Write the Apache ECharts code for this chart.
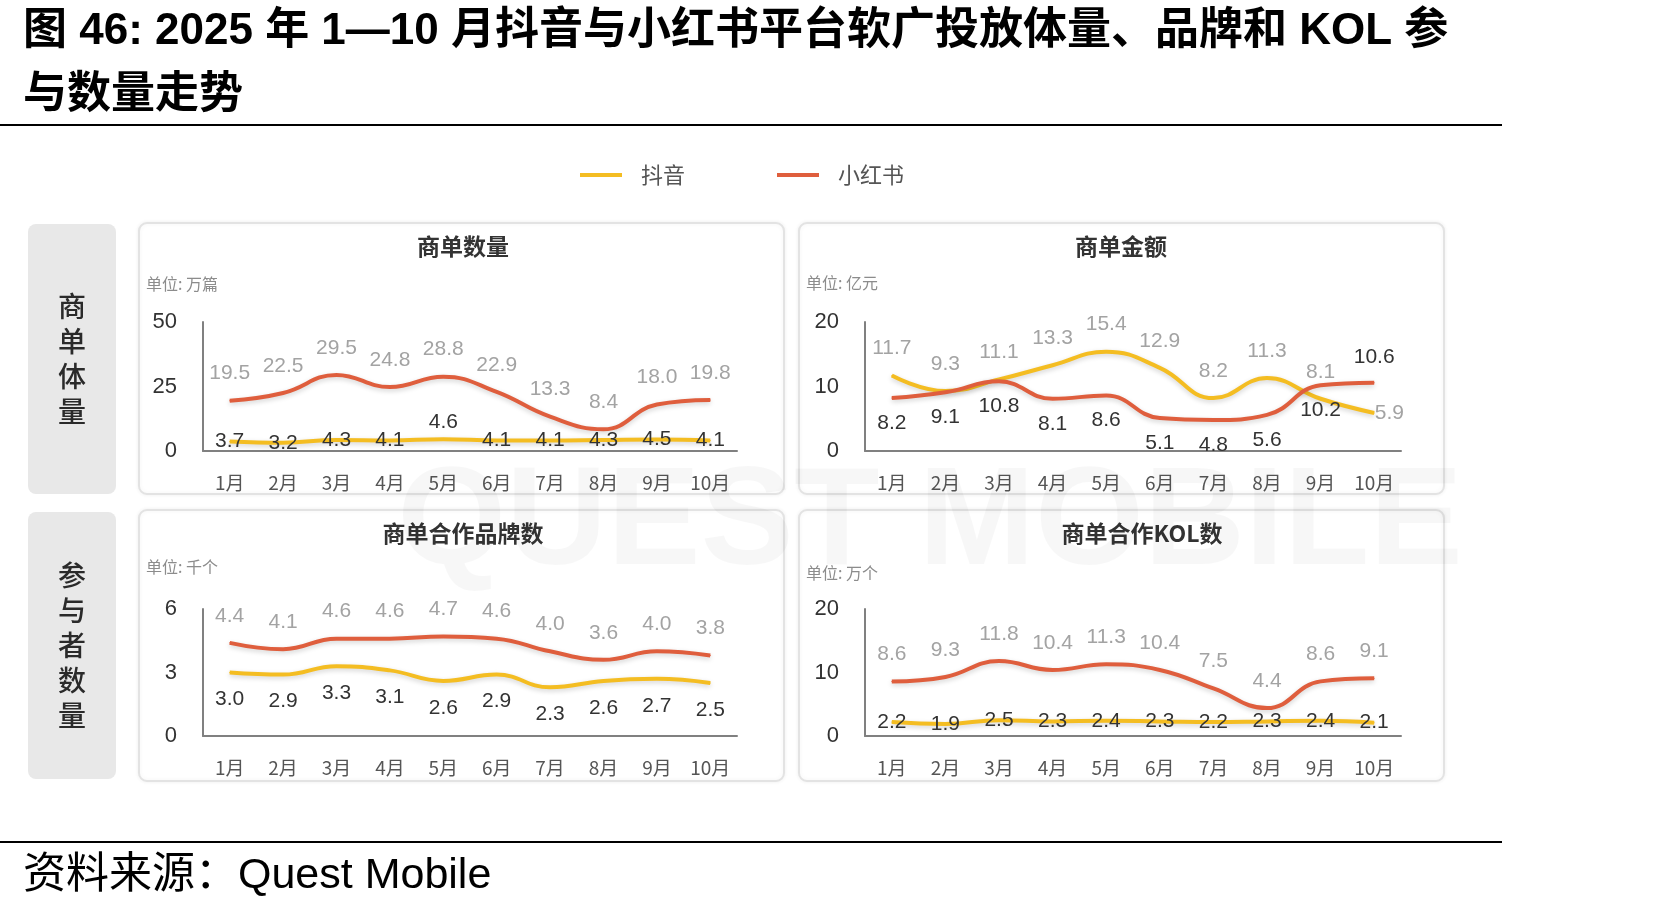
<!DOCTYPE html>
<html>
<head>
<meta charset="utf-8">
<style>
  html, body { margin: 0; padding: 0; background: #fff; }
  #main { width: 1656px; height: 911px; }
</style>
<script src="https://cdn.jsdelivr.net/npm/echarts@6/dist/echarts.min.js"></script>
</head>
<body>
<div id="main"></div>
<script>
// 月份
var months = ['1月', '2月', '3月', '4月', '5月', '6月', '7月', '8月', '9月', '10月'];

// 商单数量（万篇）
var volDouyin = [3.7, 3.2, 4.3, 4.1, 4.6, 4.1, 4.1, 4.3, 4.5, 4.1];
var volXhs = [19.5, 22.5, 29.5, 24.8, 28.8, 22.9, 13.3, 8.4, 18.0, 19.8];

// 商单金额（亿元）
var amtDouyin = [11.7, 9.3, 11.1, 13.3, 15.4, 12.9, 8.2, 11.3, 8.1, 5.9];
var amtXhs = [8.2, 9.1, 10.8, 8.1, 8.6, 5.1, 4.8, 5.6, 10.2, 10.6];

// 商单合作品牌数（千个）
var brandDouyin = [3.0, 2.9, 3.3, 3.1, 2.6, 2.9, 2.3, 2.6, 2.7, 2.5];
var brandXhs = [4.4, 4.1, 4.6, 4.6, 4.7, 4.6, 4.0, 3.6, 4.0, 3.8];

// 商单合作KOL数（万个）
var kolDouyin = [2.2, 1.9, 2.5, 2.3, 2.4, 2.3, 2.2, 2.3, 2.4, 2.1];
var kolXhs = [8.6, 9.3, 11.8, 10.4, 11.3, 10.4, 7.5, 4.4, 8.6, 9.1];

// y轴刻度
var yMax = [50, 20, 6, 20];
var yStep = [25, 10, 3, 10];

var panelTitles = ['商单数量', '商单金额', '商单合作品牌数', '商单合作KOL数'];
var panelUnits = ['单位: 万篇', '单位: 亿元', '单位: 千个', '单位: 万个'];

var YELLOW = '#F4BD22';
var RED = '#DF5E3D';
var GRAY_LABEL = '#a3a3a3';
var DARK_LABEL = '#333';
var LATIN = "'Liberation Sans', 'Noto Sans CJK SC', sans-serif";
var CJK = "'Noto Sans CJK SC', 'Liberation Sans', sans-serif";

var myChart = echarts.init(document.getElementById('main'));

// 面板位置
var panels = [
    {x: 139, y: 223, w: 645, h: 271, gl: 203, gt: 322, gw: 534, gh: 129, tx: 463, unitY: 284},
    {x: 799, y: 223, w: 645, h: 271, gl: 865, gt: 322, gw: 536, gh: 129, tx: 1121, unitY: 283},
    {x: 139, y: 510, w: 645, h: 271, gl: 203, gt: 609, gw: 534, gh: 127, tx: 463, unitY: 567},
    {x: 799, y: 510, w: 645, h: 271, gl: 865, gt: 609, gw: 536, gh: 127, tx: 1142, unitY: 573}
];

function labelOf(pos, color, dist) {
    return {
        show: true,
        position: pos,
        distance: dist,
        color: color,
        fontSize: 21,
        fontFamily: LATIN,
        formatter: function (p) { return Number(p.value).toFixed(1); }
    };
}

// overrides: {index: label}
function makeLine(idx, name, values, color, label, overrides) {
    var data = values.map(function (v, i) {
        if (overrides && overrides[i]) {
            return {value: v, label: overrides[i]};
        }
        return v;
    });
    return {
        name: name,
        type: 'line',
        xAxisIndex: idx,
        yAxisIndex: idx,
        smooth: 0.45,
        symbol: 'circle',
        symbolSize: 1,
        itemStyle: {color: color},
        lineStyle: {
            color: color,
            width: 4,
            shadowColor: 'rgba(0,0,0,0.18)',
            shadowBlur: 5,
            shadowOffsetY: 2
        },
        label: label,
        labelLayout: {hideOverlap: false},
        data: data,
        z: name === '小红书' ? 3 : 2
    };
}

var option = {
    animation: false,
    backgroundColor: '#fff',
    legend: {
        data: ['抖音', '小红书'],
        left: 575,
        top: 159,
        icon: 'rect',
        itemWidth: 42,
        itemHeight: 4,
        itemGap: 92,
        textStyle: {fontSize: 22, color: '#555', fontFamily: CJK, padding: [0, 0, 0, 14]}
    },
    grid: [],
    xAxis: [],
    yAxis: [],
    series: [],
    graphic: []
};

var g = option.graphic;

// 标题
g.push({
    type: 'text', left: 23, top: 0,
    style: {
        text: '图 46: 2025 年 1—10 月抖音与小红书平台软广投放体量、品牌和 KOL 参\n与数量走势',
        font: "bold 44px 'Liberation Sans', 'Noto Sans CJK SC', sans-serif",
        lineHeight: 64, fill: '#000'
    }
});
g.push({type: 'rect', shape: {x: 0, y: 124, width: 1502, height: 2}, style: {fill: '#000'}});
g.push({type: 'rect', shape: {x: 0, y: 841, width: 1502, height: 2}, style: {fill: '#000'}});
g.push({
    type: 'text', left: 23, top: 855,
    style: {
        text: '资料来源：Quest Mobile',
        font: "43px 'Liberation Sans', 'Noto Sans CJK SC', sans-serif",
        fill: '#000'
    }
});

// 左侧标签
var tabs = [
    {y: 224, h: 270, text: '商\n单\n体\n量'},
    {y: 512, h: 267, text: '参\n与\n者\n数\n量'}
];
tabs.forEach(function (t) {
    g.push({
        type: 'rect', z: 0,
        shape: {x: 28, y: t.y, width: 88, height: t.h, r: 8},
        style: {fill: '#e8e8e8'}
    });
    g.push({
        type: 'text', z: 1, x: 72, y: t.y + t.h / 2,
        style: {
            text: t.text, font: "500 28px " + CJK, fill: '#2a2a2a',
            lineHeight: 35, align: 'center', verticalAlign: 'middle'
        }
    });
});

panels.forEach(function (p, i) {
    g.push({
        type: 'rect', z: 0,
        shape: {x: p.x, y: p.y, width: p.w, height: p.h, r: 8},
        style: {fill: '#fff', stroke: '#e3e3e3', lineWidth: 2, shadowColor: 'rgba(0,0,0,0.06)', shadowBlur: 4}
    });
    g.push({
        type: 'text', z: 2, x: p.tx, y: p.y + 23,
        style: {
            text: panelTitles[i], font: "bold 23px " + CJK, fill: '#333',
            align: 'center', verticalAlign: 'middle'
        }
    });
    g.push({
        type: 'text', z: 2, x: p.x + 7, y: p.unitY,
        style: {
            text: panelUnits[i], font: "16px " + CJK, fill: '#8c8c8c',
            verticalAlign: 'middle'
        }
    });

    option.grid.push({left: p.gl, top: p.gt, width: p.gw, height: p.gh});
    option.xAxis.push({
        gridIndex: i,
        type: 'category',
        data: months,
        boundaryGap: true,
        axisLine: {lineStyle: {color: '#808080', width: 2}},
        axisTick: {show: false},
        axisLabel: {color: '#555', fontSize: 19, fontFamily: CJK, margin: 22}
    });
    option.yAxis.push({
        gridIndex: i,
        type: 'value',
        min: 0,
        max: yMax[i],
        interval: yStep[i],
        axisLine: {show: true, lineStyle: {color: '#808080', width: 2}},
        axisTick: {show: false},
        splitLine: {show: false},
        axisLabel: {color: '#333', fontSize: 22, fontFamily: LATIN, margin: 26}
    });
});

// 水印
g.push({
    type: 'text', z: 5, x: 930, y: 525,
    style: {
        text: 'QUEST MOBILE', font: "bold 140px 'Liberation Sans', sans-serif",
        fill: 'rgba(0,0,0,0.03)', align: 'center', verticalAlign: 'middle'
    }
});

var s = option.series;
// 商单数量
s.push(makeLine(0, '抖音', volDouyin, YELLOW, labelOf('inside', DARK_LABEL, 0),
    {4: labelOf('top', DARK_LABEL, 6)}));
s.push(makeLine(0, '小红书', volXhs, RED, labelOf('top', GRAY_LABEL, 16)));
// 商单金额
s.push(makeLine(1, '抖音', amtDouyin, YELLOW, labelOf('top', GRAY_LABEL, 16),
    {9: labelOf('right', GRAY_LABEL, 0)}));
s.push(makeLine(1, '小红书', amtXhs, RED, labelOf('bottom', DARK_LABEL, 14),
    {9: labelOf('top', DARK_LABEL, 14)}));
// 商单合作品牌数
s.push(makeLine(2, '抖音', brandDouyin, YELLOW, labelOf('bottom', DARK_LABEL, 16)));
s.push(makeLine(2, '小红书', brandXhs, RED, labelOf('top', GRAY_LABEL, 16)));
// 商单合作KOL数
s.push(makeLine(3, '抖音', kolDouyin, YELLOW, labelOf('inside', DARK_LABEL, 0)));
s.push(makeLine(3, '小红书', kolXhs, RED, labelOf('top', GRAY_LABEL, 16)));

myChart.setOption(option);
</script>
</body>
</html>
